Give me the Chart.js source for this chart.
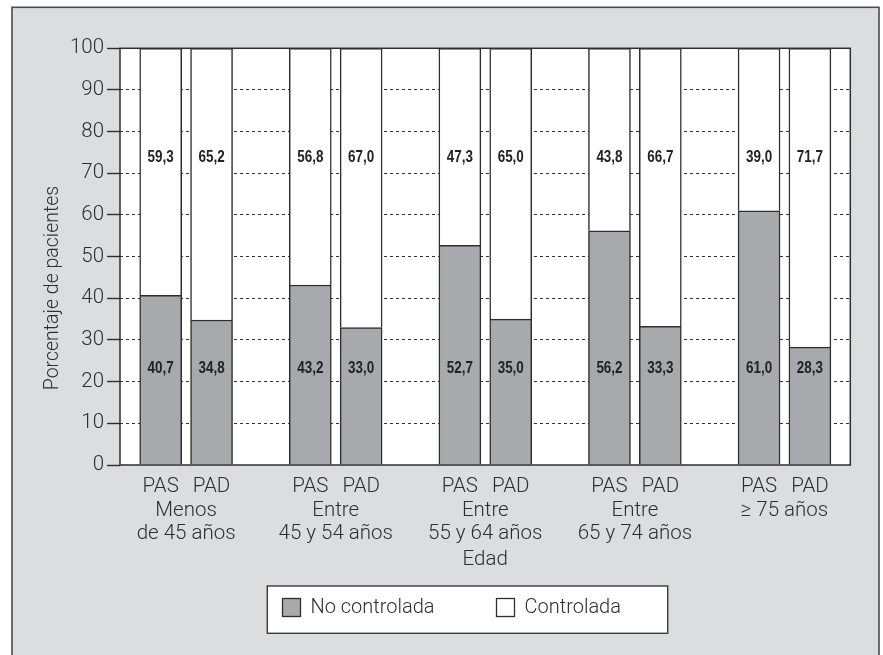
<!DOCTYPE html>
<html>
<head>
<meta charset="utf-8">
<script src="https://cdn.jsdelivr.net/npm/chart.js@4"></script>
<style>
  html, body { margin: 0; padding: 0; background: #ffffff; }
  #wrap { position: relative; width: 883px; height: 655px; }
</style>
</head>
<body>
<div id="wrap"><canvas id="chart"></canvas></div>
<script>
// Age groups (x axis), measure under each bar, and the two stacked series
const groups = [["Menos", "de 45 años"], ["Entre", "45 y 54 años"], ["Entre", "55 y 64 años"], ["Entre", "65 y 74 años"], ["≥ 75 años"]];
const measures = ["PAS", "PAD"];
const seriesNames = ["No controlada", "Controlada"];
// One value per bar: PAS, PAD for each age group in turn
const noControlada = [40.7, 34.8, 43.2, 33.0, 52.7, 35.0, 56.2, 33.3, 61.0, 28.3];
const controlada   = [59.3, 65.2, 56.8, 67.0, 47.3, 65.0, 43.8, 66.7, 39.0, 71.7];
const yTicks = [0, 10, 20, 30, 40, 50, 60, 70, 80, 90, 100];
const yTitle = "Porcentaje de pacientes";
const xTitle = "Edad";

// ---- layout & style ----
const INK = '#2e2e2e';
const GREY = '#a8a9ad';
const PANEL = '#dcdddf';
const FONT = "Roboto, 'Liberation Sans', Arial, sans-serif";
const LABEL_FONT = "bold 16px 'Liberation Sans', Arial, sans-serif";
const LABEL_SQUEEZE = 0.84;       // condensed look for the bar numbers
const PAIR_SHIFT = 0.17;          // half distance between PAS and PAD bars, in group units
const X_MIN = -0.442, X_MAX = 4.44;
const LABEL_LEVELS = [23.3, 74];  // value heights where the numbers are written

const barX = [];
groups.forEach((g, gi) => measures.forEach((m, mi) => barX.push(gi + (mi === 0 ? -PAIR_SHIFT : PAIR_SHIFT))));
const groupX = groups.map((g, gi) => gi);

const fmt = v => v.toFixed(1).replace('.', ',');

const panelPlugin = {
  id: 'panel',
  beforeDraw(chart) {
    const { ctx, chartArea: a, width, height } = chart;
    ctx.save();
    ctx.fillStyle = '#ffffff';
    ctx.fillRect(0, 0, width, height);
    ctx.fillStyle = PANEL;
    ctx.fillRect(12, 7, 867, height);
    ctx.strokeStyle = '#4a4a4a';
    ctx.lineWidth = 1.6;
    ctx.strokeRect(12, 7.3, 867, height + 10);
    ctx.fillStyle = '#ffffff';
    ctx.fillRect(a.left, a.top, a.right - a.left, a.bottom - a.top);
    ctx.restore();
  },
  afterDatasetsDraw(chart) {
    const { ctx, chartArea: a, scales } = chart;
    ctx.save();
    ctx.strokeStyle = INK;
    ctx.lineWidth = 1.5;
    ctx.strokeRect(a.left, a.top, a.right - a.left, a.bottom - a.top);
    // value labels
    ctx.fillStyle = '#222';
    ctx.font = LABEL_FONT;
    ctx.textAlign = 'center';
    ctx.textBaseline = 'middle';
    chart.data.datasets.forEach((ds, di) => {
      const meta = chart.getDatasetMeta(di);
      const y = scales.y.getPixelForValue(LABEL_LEVELS[di]);
      meta.data.forEach((el, i) => {
        ctx.save();
        ctx.translate(el.x, y + 1);
        ctx.scale(LABEL_SQUEEZE, 1);
        ctx.fillText(fmt(ds.data[i].y), 0, 0);
        ctx.restore();
      });
    });
    ctx.restore();
  },
  afterDraw(chart) {
    const { ctx } = chart;
    ctx.save();
    // y axis title
    ctx.fillStyle = INK;
    ctx.font = "300 19.5px " + FONT;
    ctx.textAlign = 'center';
    ctx.textBaseline = 'middle';
    ctx.translate(53, 288);
    ctx.rotate(-Math.PI / 2);
    ctx.fillText(yTitle, 0, 0);
    ctx.restore();

    // legend
    ctx.save();
    const box = { x: 267.3, y: 586, w: 400.4, h: 47.3 };
    ctx.fillStyle = '#ffffff';
    ctx.fillRect(box.x, box.y, box.w, box.h);
    ctx.strokeStyle = '#3a3a3a';
    ctx.lineWidth = 1.4;
    ctx.strokeRect(box.x, box.y, box.w, box.h);
    const itemX = [282.5, 496.5];
    const cy = 607.5;
    ctx.font = "300 20px " + FONT;
    ctx.textBaseline = 'middle';
    ctx.textAlign = 'left';
    chart.data.datasets.forEach((ds, di) => {
      const x = itemX[di];
      ctx.fillStyle = ds.backgroundColor;
      ctx.fillRect(x, cy - 9, 18, 18);
      ctx.strokeStyle = INK;
      ctx.lineWidth = 1.3;
      ctx.strokeRect(x, cy - 9, 18, 18);
      ctx.fillStyle = INK;
      ctx.fillText(ds.label, x + 28, cy);
    });
    ctx.restore();
  }
};

const tickFont = { family: FONT, size: 20.5, weight: '300', lineHeight: 1.1 };

new Chart(document.getElementById('chart'), {
  type: 'bar',
  data: {
    datasets: [
      {
        label: seriesNames[0],
        data: noControlada.map((v, i) => ({ x: barX[i], y: v })),
        backgroundColor: GREY,
        borderColor: INK,
        borderWidth: 1.5,
        barThickness: 42,
        xAxisID: 'x'
      },
      {
        label: seriesNames[1],
        data: controlada.map((v, i) => ({ x: barX[i], y: v })),
        backgroundColor: '#ffffff',
        borderColor: INK,
        borderWidth: 1.5,
        barThickness: 42,
        xAxisID: 'x'
      }
    ]
  },
  options: {
    responsive: true,
    maintainAspectRatio: false,
    animation: false,
    layout: { padding: { left: 0, top: 48.3, right: 32.7, bottom: 83.6 } },
    plugins: { legend: { display: false }, tooltip: { enabled: false } },
    scales: {
      y: {
        stacked: true,
        min: 0,
        max: 100,
        afterFit: s => { s.width = 120; },
        afterBuildTicks: s => { s.ticks = yTicks.map(v => ({ value: v })); },
        ticks: { color: INK, font: { family: FONT, size: 20.5, weight: '300' }, padding: 3 },
        grid: {
          color: c => (c.tick && (c.tick.value === 0 || c.tick.value === 100)) ? 'rgba(0,0,0,0)' : '#333',
          lineWidth: 1,
          tickLength: 13,
          tickColor: INK,
          tickWidth: 1.4,
          tickBorderDash: []
        },
        border: { display: false, dash: [3, 3] }
      },
      x: {
        type: 'linear',
        stacked: true,
        min: X_MIN,
        max: X_MAX,
        offset: false,
        bounds: 'data',
        weight: 1,
        afterBuildTicks: s => { s.ticks = barX.map(v => ({ value: v })); },
        afterFit: s => { s.height = 32; },
        ticks: {
          autoSkip: false, maxRotation: 0, minRotation: 0, padding: 11,
          color: INK, font: tickFont,
          callback: (v, i) => measures[i % measures.length]
        },
        grid: { display: false, drawTicks: false },
        border: { display: false }
      },
      xg: {
        type: 'linear',
        position: 'bottom',
        min: X_MIN,
        max: X_MAX,
        offset: false,
        bounds: 'data',
        weight: 2,
        afterBuildTicks: s => { s.ticks = groupX.map(v => ({ value: v })); },
        afterFit: s => { s.height = 74.4; },
        ticks: {
          autoSkip: false, maxRotation: 0, minRotation: 0, padding: 3,
          color: INK, font: tickFont,
          callback: (v, i) => groups[i]
        },
        title: { display: true, text: xTitle, color: INK, font: tickFont, padding: 0 },
        grid: { display: false, drawTicks: false },
        border: { display: false }
      }
    }
  },
  plugins: [panelPlugin]
});
</script>
</body>
</html>
